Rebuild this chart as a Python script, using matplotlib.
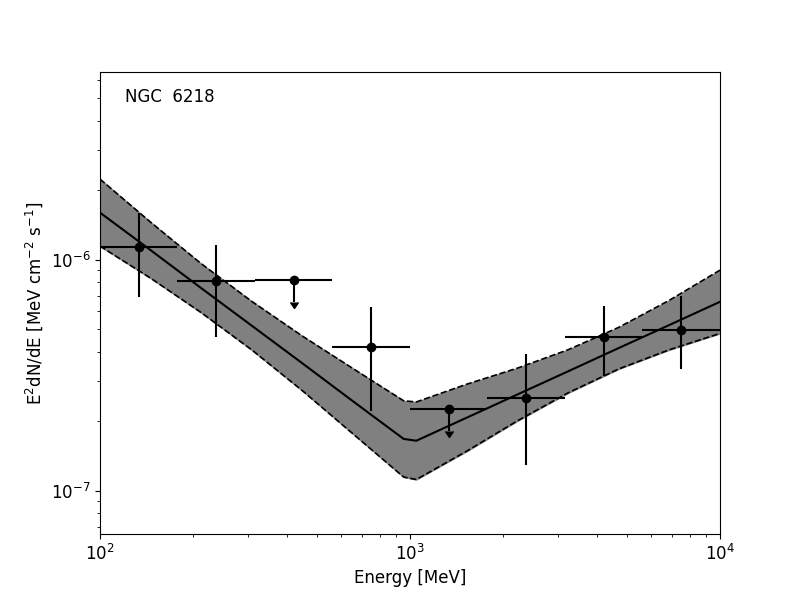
import matplotlib
matplotlib.use("Agg")
import matplotlib.pyplot as plt
import numpy as np

plt.rcParams['font.size'] = 12

# flux points (E^2 dN/dE), bins are 4 per decade
bin_edges = [100, 177.8, 316.2, 562.3, 1000, 1778, 3162, 5623, 10000]
flux = [1.14e-6, 8.11e-7, 8.19e-7, 4.19e-7, 2.26e-7, 2.52e-7, 4.63e-7, 4.98e-7]
flux_hi = [1.59e-6, 1.16e-6, 0, 6.24e-7, 0, 3.92e-7, 6.33e-7, 6.94e-7]
flux_lo = [6.90e-7, 4.63e-7, 0, 2.21e-7, 0, 1.29e-7, 3.13e-7, 3.37e-7]
is_ul = [False, False, True, False, True, False, False, False]

# model curve and its error band
model_e = [100, 146, 212, 309, 450, 655, 954, 1048, 1526, 2223, 3237, 4715, 6866, 10000]
model_f = [1.60e-6, 1.098e-6, 7.54e-7, 5.18e-7, 3.56e-7, 2.44e-7, 1.677e-7,
           1.647e-7, 2.074e-7, 2.613e-7, 3.29e-7, 4.15e-7, 5.22e-7, 6.58e-7]
band_hi = [2.234e-6, 1.450e-6, 9.62e-7, 6.60e-7, 4.67e-7, 3.38e-7, 2.452e-7,
           2.424e-7, 2.895e-7, 3.397e-7, 4.08e-7, 5.10e-7, 6.68e-7, 9.02e-7]
band_lo = [1.146e-6, 8.31e-7, 5.91e-7, 4.07e-7, 2.71e-7, 1.763e-7, 1.147e-7,
           1.119e-7, 1.486e-7, 2.010e-7, 2.655e-7, 3.37e-7, 4.08e-7, 4.80e-7]

edges = np.array(bin_edges)
centers = np.sqrt(edges[:-1] * edges[1:])
xerr = [centers - edges[:-1], edges[1:] - centers]
flux = np.array(flux)
ul = np.array(is_ul)

fig, ax = plt.subplots(figsize=(8, 6), dpi=100)
ax.set_xscale('log')
ax.set_yscale('log')

ax.fill_between(model_e, band_lo, band_hi, color='0.5')
ax.plot(model_e, band_hi, 'k--', lw=1.2)
ax.plot(model_e, band_lo, 'k--', lw=1.2)
ax.plot(model_e, model_f, 'k-', lw=1.5)

# detections
det = ~ul
yerr = [flux[det] - np.array(flux_lo)[det], np.array(flux_hi)[det] - flux[det]]
ax.errorbar(centers[det], flux[det], xerr=[xerr[0][det], xerr[1][det]], yerr=yerr,
            fmt='o', color='k', lw=1.5)
# upper limits
ax.errorbar(centers[ul], flux[ul], xerr=[xerr[0][ul], xerr[1][ul]], yerr=0.2 * flux[ul],
            uplims=True, fmt='o', color='k', lw=1.5)

ax.set_xlim(1e2, 1e4)
ax.set_ylim(6.5e-8, 6.5e-6)
ax.set_xlabel('Energy [MeV]')
ax.set_ylabel('E$^2$dN/dE [MeV cm$^{-2}$ s$^{-1}$]')
ax.text(0.04, 0.965, 'NGC  6218', transform=ax.transAxes, va='top')

plt.savefig('out.png')
